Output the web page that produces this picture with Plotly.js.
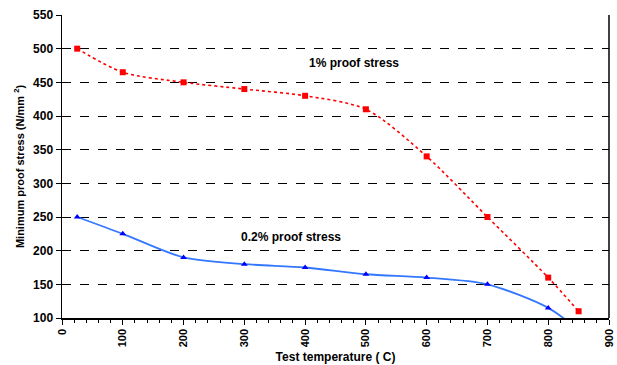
<!DOCTYPE html>
<html><head><meta charset="utf-8">
<script src="https://cdn.plot.ly/plotly-3.0.1.min.js"></script>
<style>html,body{margin:0;padding:0;background:#fff}</style>
</head><body>
<div id="chart" style="width:617px;height:365px"></div>
<script>
const tempProof1 = [25, 100, 200, 300, 400, 500, 600, 700, 800, 850];
const stressProof1 = [500, 465, 450, 440, 430, 410, 340, 250, 160, 110];
const tempProof02 = [25, 100, 200, 300, 400, 500, 600, 700, 800, 850];
const stressProof02 = [250, 225, 190, 180, 175, 165, 160, 150, 115, 82];
const xTicks = [0, 100, 200, 300, 400, 500, 600, 700, 800, 900];
const yTicks = [100, 150, 200, 250, 300, 350, 400, 450, 500, 550];
const labels = ["1% proof stress", "0.2% proof stress"];

const f = "Liberation Sans, Arial, sans-serif";
const traces = [
  {x: tempProof1, y: stressProof1, type: 'scatter', mode: 'lines+markers', cliponaxis: true,
   line: {color: '#ff0000', width: 1.6, dash: 'dot', shape: 'spline', smoothing: 0.8},
   marker: {symbol: 'square', size: 6, color: '#ff0000'}},
  {x: tempProof02, y: stressProof02, type: 'scatter', mode: 'lines+markers', cliponaxis: true,
   line: {color: '#3377ff', width: 1.8, shape: 'spline', smoothing: 0.8},
   marker: {symbol: 'triangle-up', size: 6, color: '#0000ff'}}
];
const layout = {
  width: 617, height: 365,
  margin: {l: 62, r: 8, t: 15, b: 47},
  paper_bgcolor: '#fff', plot_bgcolor: '#fff',
  showlegend: false,
  font: {family: f, color: '#000'},
  xaxis: {
    range: [0, 900], tickvals: xTicks, ticktext: xTicks.map(String),
    tickangle: -90, tickfont: {family: f, size: 11, color: '#000', weight: 'bold'},
    showline: true, linecolor: '#000', linewidth: 1.5,
    ticks: 'outside', ticklen: 5, tickcolor: '#000',
    minor: {dtick: 20, tick0: 0, ticks: 'outside', ticklen: 3, tickcolor: '#000', showgrid: false},
    showgrid: false, zeroline: false,
    title: {text: 'Test temperature ( C)', font: {family: f, size: 12, weight: 'bold', color: '#000'}, standoff: 6}
  },
  yaxis: {
    range: [100, 550], tickvals: yTicks, ticktext: yTicks.map(String),
    tickfont: {family: f, size: 12, color: '#000', weight: 'bold'},
    showline: true, linecolor: '#000', linewidth: 1.5, mirror: false,
    ticks: 'outside', ticklen: 5, tickcolor: '#000',
    showgrid: true, gridcolor: '#000', gridwidth: 1, griddash: 'dash',
    zeroline: false,
    title: {text: 'Minimum proof stress (N/mm <sup>2</sup>)', font: {family: f, size: 11, weight: 'bold', color: '#000'}, standoff: 6}
  },
  shapes: [
    {type: 'line', xref: 'paper', yref: 'paper', x0: 1, x1: 1, y0: 0, y1: 1, line: {color: '#000', width: 1.5}}
  ],
  annotations: [
    {x: 480, y: 478, xref: 'x', yref: 'y', text: labels[0], showarrow: false,
     font: {family: f, size: 12, weight: 'bold', color: '#000'}},
    {x: 377, y: 221, xref: 'x', yref: 'y', text: labels[1], showarrow: false,
     font: {family: f, size: 12, weight: 'bold', color: '#000'}}
  ]
};
Plotly.newPlot('chart', traces, layout, {displayModeBar: false, staticPlot: true});
</script>
</body></html>
